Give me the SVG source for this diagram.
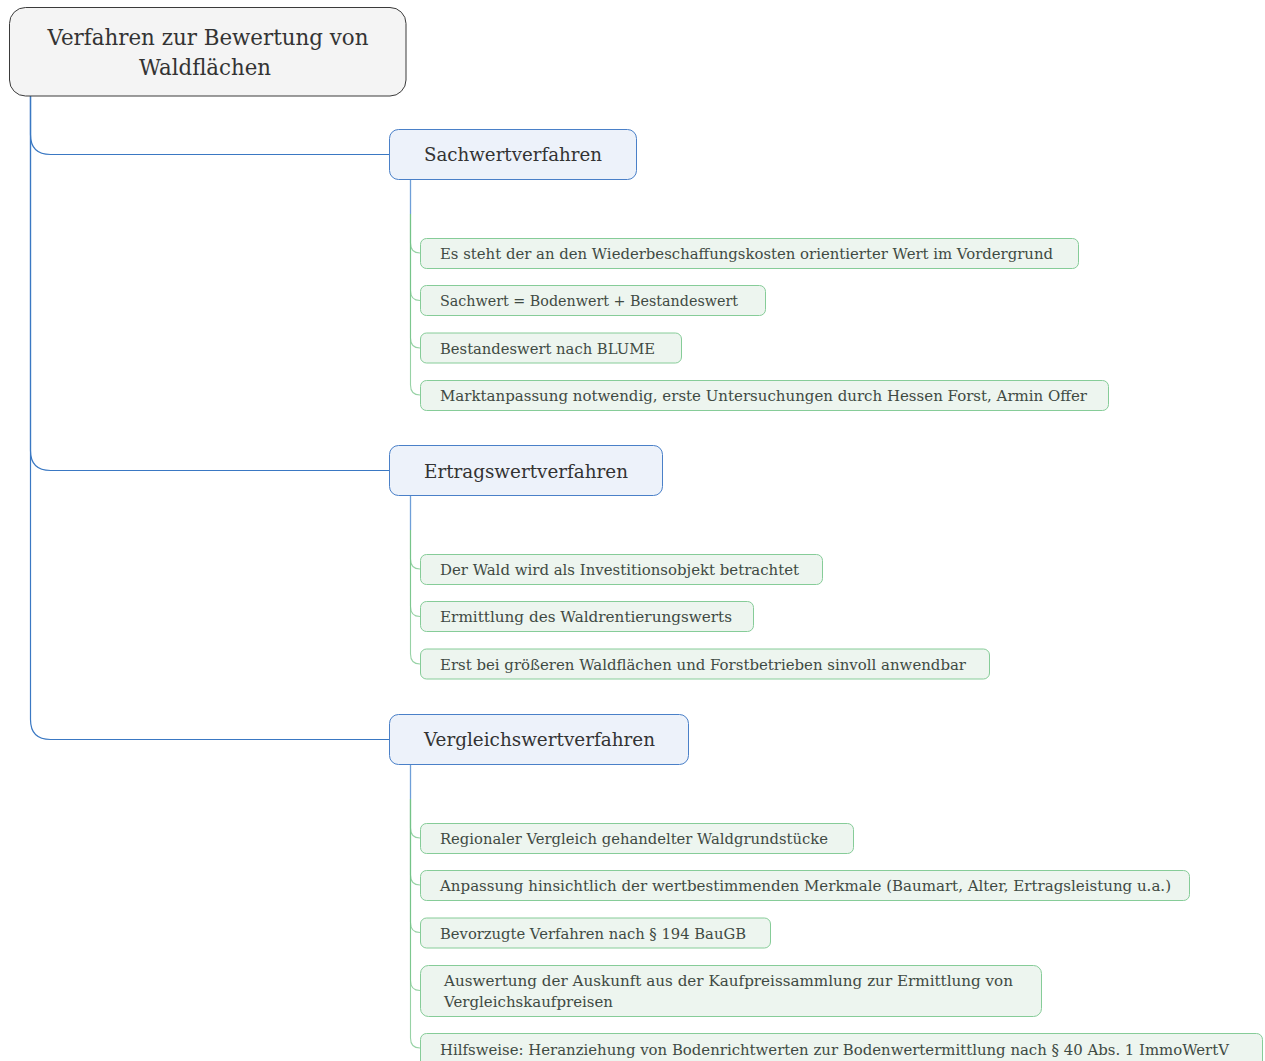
<svg xmlns="http://www.w3.org/2000/svg" width="1265" height="1061" viewBox="0 0 1265 1061">
<style>
text{font-family:"DejaVu Serif","Liberation Serif",serif}
.root rect{fill:#f4f4f4;stroke:#3a3a3a;stroke-width:1}
.root text{font-size:22px;fill:#333;text-anchor:middle}
.l1 rect{fill:#edf2fa;stroke:#4a80c8;stroke-width:1}
.l1 text{font-size:18px;fill:#333}
.l2 rect{fill:#edf5ef;stroke:#86cc98;stroke-width:1}
.l2 text{font-size:14px;fill:#3f4a43}
.cb{fill:none;stroke:#3a78c3;stroke-width:1.2}
.cs{fill:none;stroke:#6f9fd8;stroke-width:1.3}
.cg{fill:none;stroke:#74c387;stroke-width:1.1;stroke-opacity:0.75}
</style>
<g id="connectors">
<path class="cb" d="M30.5 96 V134.5 Q30.5 154.5 50.5 154.5 H389.5"/>
<path class="cb" d="M30.5 96 V450.5 Q30.5 470.5 50.5 470.5 H389.5"/>
<path class="cb" d="M30.5 96 V719.5 Q30.5 739.5 50.5 739.5 H389.5"/>
<path class="cs" d="M410.5 180 V214"/>
<path class="cg" d="M410.5 214 V243 Q410.5 253 420 253"/>
<path class="cg" d="M410.5 214 V290.5 Q410.5 300.5 420 300.5"/>
<path class="cg" d="M410.5 214 V338 Q410.5 348 420 348"/>
<path class="cg" d="M410.5 214 V385 Q410.5 395 420 395"/>
<path class="cs" d="M410.5 496 V530"/>
<path class="cg" d="M410.5 530 V559 Q410.5 569 420 569"/>
<path class="cg" d="M410.5 530 V606.5 Q410.5 616.5 420 616.5"/>
<path class="cg" d="M410.5 530 V654 Q410.5 664 420 664"/>
<path class="cs" d="M410.5 765 V799"/>
<path class="cg" d="M410.5 799 V828 Q410.5 838 420 838"/>
<path class="cg" d="M410.5 799 V875 Q410.5 885 420 885"/>
<path class="cg" d="M410.5 799 V922.5 Q410.5 932.5 420 932.5"/>
<path class="cg" d="M410.5 799 V980.5 Q410.5 990.5 420 990.5"/>
<path class="cg" d="M410.5 799 V1038 Q410.5 1048 420 1048"/>
</g>
<g id="root" class="root">
<rect x="9.5" y="7.5" width="396.5" height="88.5" rx="16"/>
<text x="208" y="45" textLength="321" lengthAdjust="spacingAndGlyphs">Verfahren zur Bewertung von</text>
<text x="205" y="75" textLength="132" lengthAdjust="spacingAndGlyphs">Waldflächen</text>
</g>
<g id="sachwert" class="l1">
<rect x="389.5" y="129.5" width="247" height="50" rx="9"/>
<text x="424" y="161" textLength="178" lengthAdjust="spacingAndGlyphs">Sachwertverfahren</text>
</g>
<g id="s1" class="l2"><rect x="420.5" y="238.5" width="658" height="30" rx="6"/><text x="440" y="258.5" textLength="613" lengthAdjust="spacingAndGlyphs">Es steht der an den Wiederbeschaffungskosten orientierter Wert im Vordergrund</text></g>
<g id="s2" class="l2"><rect x="420.5" y="285.5" width="345" height="30" rx="6"/><text x="440" y="306" textLength="298" lengthAdjust="spacingAndGlyphs">Sachwert = Bodenwert + Bestandeswert</text></g>
<g id="s3" class="l2"><rect x="420.5" y="333" width="261" height="30" rx="6"/><text x="440" y="353.5" textLength="215" lengthAdjust="spacingAndGlyphs">Bestandeswert nach BLUME</text></g>
<g id="s4" class="l2"><rect x="420.5" y="380.5" width="688" height="30" rx="6"/><text x="440" y="400.5" textLength="647" lengthAdjust="spacingAndGlyphs">Marktanpassung notwendig, erste Untersuchungen durch Hessen Forst, Armin Offer</text></g>
<g id="ertrag" class="l1">
<rect x="389.5" y="445.5" width="273" height="50" rx="9"/>
<text x="424" y="477.5" textLength="204" lengthAdjust="spacingAndGlyphs">Ertragswertverfahren</text>
</g>
<g id="e1" class="l2"><rect x="420.5" y="554.5" width="402" height="30" rx="6"/><text x="440" y="574.5" textLength="359" lengthAdjust="spacingAndGlyphs">Der Wald wird als Investitionsobjekt betrachtet</text></g>
<g id="e2" class="l2"><rect x="420.5" y="601.5" width="333" height="30" rx="6"/><text x="440" y="622" textLength="292" lengthAdjust="spacingAndGlyphs">Ermittlung des Waldrentierungswerts</text></g>
<g id="e3" class="l2"><rect x="420.5" y="649" width="569" height="30" rx="6"/><text x="440" y="669.5" textLength="526" lengthAdjust="spacingAndGlyphs">Erst bei größeren Waldflächen und Forstbetrieben sinvoll anwendbar</text></g>
<g id="vergleich" class="l1">
<rect x="389.5" y="714.5" width="299" height="50" rx="9"/>
<text x="424" y="746" textLength="231" lengthAdjust="spacingAndGlyphs">Vergleichswertverfahren</text>
</g>
<g id="v1" class="l2"><rect x="420.5" y="823.5" width="433" height="30" rx="6"/><text x="440" y="843.5" textLength="388" lengthAdjust="spacingAndGlyphs">Regionaler Vergleich gehandelter Waldgrundstücke</text></g>
<g id="v2" class="l2"><rect x="420.5" y="870.5" width="769" height="30" rx="6"/><text x="440" y="890.5" textLength="731" lengthAdjust="spacingAndGlyphs">Anpassung hinsichtlich der wertbestimmenden Merkmale (Baumart, Alter, Ertragsleistung u.a.)</text></g>
<g id="v3" class="l2"><rect x="420.5" y="918" width="350" height="30" rx="6"/><text x="440" y="938.5" textLength="306" lengthAdjust="spacingAndGlyphs">Bevorzugte Verfahren nach § 194 BauGB</text></g>
<g id="v4" class="l2"><rect x="420.5" y="965.5" width="621" height="51" rx="8"/><text x="444" y="986" textLength="569" lengthAdjust="spacingAndGlyphs">Auswertung der Auskunft aus der Kaufpreissammlung zur Ermittlung von</text><text x="444" y="1007" textLength="169" lengthAdjust="spacingAndGlyphs">Vergleichskaufpreisen</text></g>
<g id="v5" class="l2"><rect x="420.5" y="1033.5" width="842" height="34" rx="6"/><text x="440" y="1054.5" textLength="789" lengthAdjust="spacingAndGlyphs">Hilfsweise: Heranziehung von Bodenrichtwerten zur Bodenwertermittlung nach § 40 Abs. 1 ImmoWertV</text></g>
</svg>
